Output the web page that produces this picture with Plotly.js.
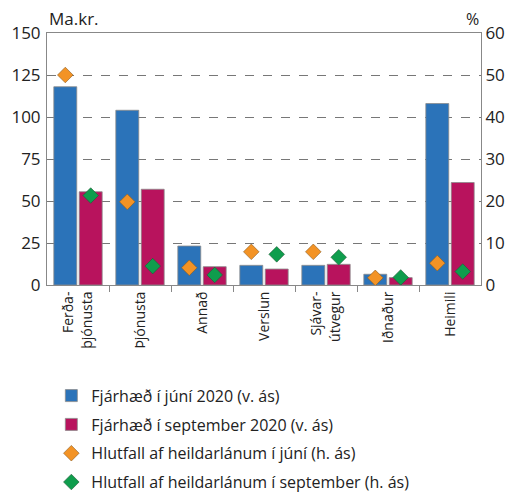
<!DOCTYPE html>
<html><head><meta charset="utf-8">
<script src="https://cdn.plot.ly/plotly-3.0.1.min.js"></script>
<style>html,body{margin:0;padding:0;background:#fff}#chart{width:509px;height:493px}</style>
</head><body><div id="chart"></div>
<script>
const categories = ["Ferða-<br>þjónusta", "Þjónusta", "Annað", "Verslun", "Sjávar-<br>útvegur", "Iðnaður", "Heimili"];
const amountJune = [118, 104, 23.2, 11.7, 11.7, 6.4, 108];
const amountSept = [55.5, 57, 10.9, 9.5, 12.3, 4.4, 61];
const shareJune = [50, 19.8, 4.1, 7.9, 7.9, 1.7, 5.2];
const shareSept = [21.3, 4.5, 2.4, 7.3, 6.6, 1.8, 3.2];
const seriesNames = ["Fjárhæð í júní 2020 (v. ás)", "Fjárhæð í september 2020 (v. ás)", "Hlutfall af heildarlánum í júní (h. ás)", "Hlutfall af heildarlánum í september (h. ás)"];

const FONT = "Open Sans, Lato, sans-serif";
const idx = categories.map((c, i) => i);
const barW = 0.37, half = 0.205;

const traces = [
  {type: "bar", x: idx, y: amountJune, name: seriesNames[0], legendgroup: "a", width: barW, offset: -half - barW/2,
   marker: {color: "#2b73b9", line: {color: "#8a8a8a", width: 0.8}}, xaxis: "x", yaxis: "y"},
  {type: "bar", x: idx, y: amountSept, name: seriesNames[1], legendgroup: "b", width: barW, offset: half - barW/2,
   marker: {color: "#b8135d", line: {color: "#8a8a8a", width: 0.8}}, xaxis: "x", yaxis: "y"},
  {type: "scatter", mode: "markers", x: idx.map(i => i - half), y: shareJune, name: seriesNames[2], legendgroup: "c",
   marker: {symbol: "diamond", size: 12, color: "#f39325", line: {color: "#8a5a20", width: 0.6}}, xaxis: "x", yaxis: "y2"},
  {type: "scatter", mode: "markers", x: idx.map(i => i + half), y: shareSept, name: seriesNames[3], legendgroup: "d",
   marker: {symbol: "diamond", size: 12, color: "#0f9d4d", line: {color: "#205a35", width: 0.6}}, xaxis: "x", yaxis: "y2"}
];

const layout = {
  width: 509, height: 493,
  margin: {l: 47, r: 28, t: 33, b: 208, autoexpand: false},
  paper_bgcolor: "#fff", plot_bgcolor: "#fff",
  font: {family: FONT, size: 14, color: "#222"},
  showlegend: true,
  barmode: "overlay",
  xaxis: {
    range: [-0.5, 6.5], tickmode: "array", tickvals: idx, ticktext: categories,
    tickangle: -90, tickfont: {size: 14, family: FONT}, automargin: false,
    showgrid: false, zeroline: false, showline: true, linecolor: "#888", linewidth: 1, mirror: true,
    ticks: "", fixedrange: true
  },
  xaxis2: {
    range: [-0.5, 6.5], overlaying: "x", anchor: "y", tickmode: "array",
    tickvals: idx.slice(0, -1).map(i => i + 0.5), ticks: "outside", ticklen: 6, tickcolor: "#888",
    showticklabels: false, showgrid: false, zeroline: false, showline: false, side: "bottom"
  },
  yaxis: {
    range: [0, 150], tickvals: [0, 25, 50, 75, 100, 125, 150], tickfont: {size: 17, family: FONT},
    showgrid: true, gridcolor: "#777", griddash: "dash", gridwidth: 1, automargin: false,
    zeroline: false, showline: true, linecolor: "#888", mirror: true, ticks: "", ticklabelstandoff: 2
  },
  yaxis2: {
    range: [0, 60], tickvals: [0, 10, 20, 30, 40, 50, 60], overlaying: "y", side: "right", automargin: false,
    tickfont: {size: 17, family: FONT}, showgrid: false, zeroline: false, showline: true, linecolor: "#888", ticks: ""
  },
  legend: {
    x: 0.01, xanchor: "left", y: -0.852, yanchor: "bottom", orientation: "v",
    font: {size: 16, family: FONT, color: "#222"}, tracegroupgap: 5, itemwidth: 30,
    traceorder: "grouped", bgcolor: "rgba(0,0,0,0)"
  },
  annotations: [
    {text: "Ma.kr.", xref: "paper", yref: "paper", x: 0, y: 1, xanchor: "left", yanchor: "bottom",
     showarrow: false, font: {size: 17, family: FONT}, yshift: 1},
    {text: "%", xref: "paper", yref: "paper", x: 1, y: 1, xanchor: "right", yanchor: "bottom",
     showarrow: false, font: {size: 16, family: FONT}, yshift: 1}
  ]
};

// dummy trace to activate xaxis2 tick marks at category boundaries
traces.push({type: "scatter", x: [], y: [], xaxis: "x2", yaxis: "y", showlegend: false, hoverinfo: "skip"});

Plotly.newPlot("chart", traces, layout, {displayModeBar: false, staticPlot: true});
</script></body></html>
